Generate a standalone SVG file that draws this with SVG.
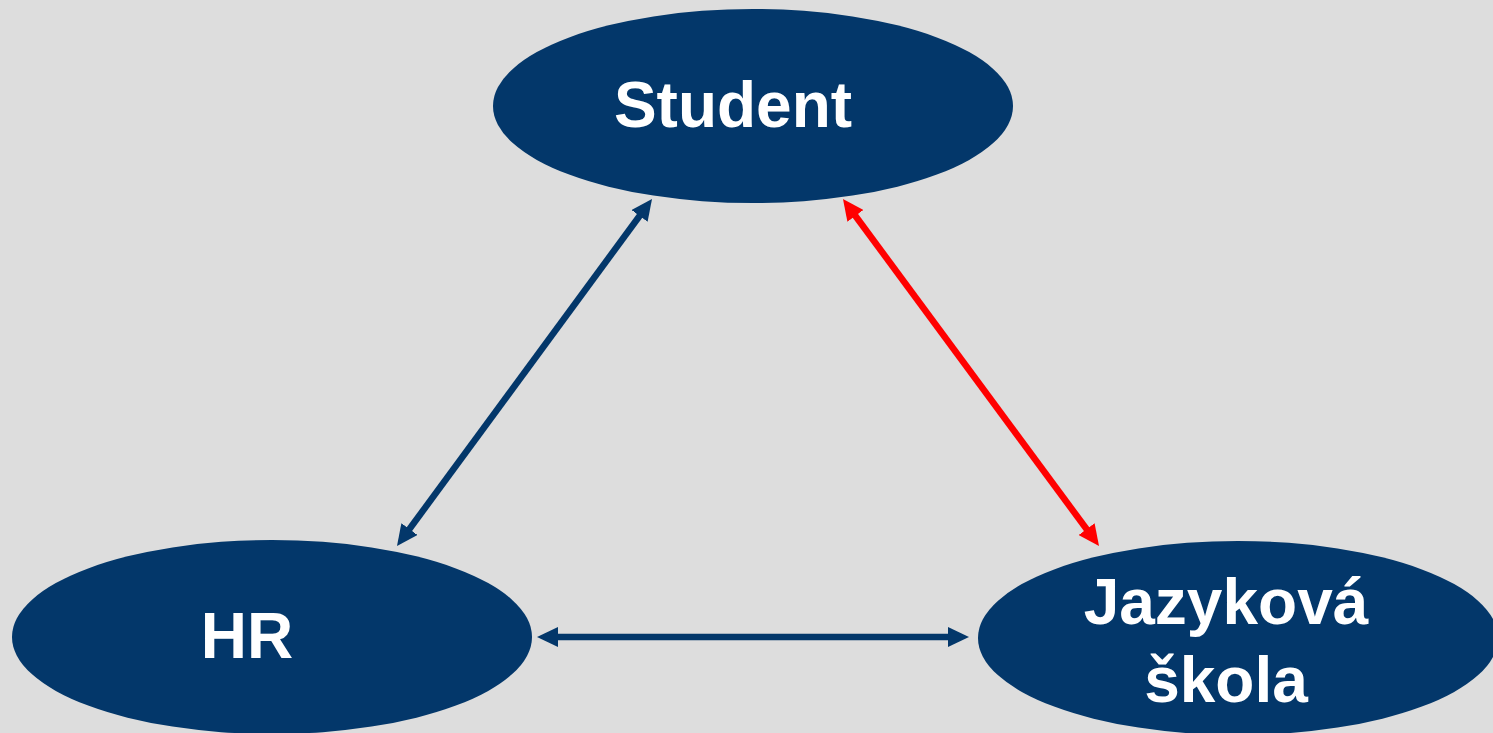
<svg xmlns="http://www.w3.org/2000/svg" width="1493" height="733" viewBox="0 0 1493 733">
<style>
.node{fill:#03376A}
.lbl{fill:#FFFFFF;font-family:"Liberation Sans",Arial,sans-serif;font-weight:bold;font-size:64px;text-anchor:middle}
.blue{stroke:#03376A;stroke-width:6.5;fill:none}
.red{stroke:#FF0000;stroke-width:6.5;fill:none}
</style>
<defs>
<marker id="ab" markerUnits="userSpaceOnUse" markerWidth="21" markerHeight="20" refX="8" refY="10" orient="auto-start-reverse" viewBox="0 0 21 20"><path d="M0,0 L21,10 L0,20 z" fill="#03376A"/></marker>
<marker id="ar" markerUnits="userSpaceOnUse" markerWidth="21" markerHeight="20" refX="8" refY="10" orient="auto-start-reverse" viewBox="0 0 21 20"><path d="M0,0 L21,10 L0,20 z" fill="#FF0000"/></marker>
</defs>
<rect width="1493" height="733" fill="#DDDDDD"/>
<g id="connectors">
<line class="blue" x1="404.7" y1="535.5" x2="644.3" y2="209.5" marker-start="url(#ab)" marker-end="url(#ab)"/>
<line class="red" x1="850.7" y1="209.5" x2="1091.3" y2="535.5" marker-start="url(#ar)" marker-end="url(#ar)"/>
<line class="blue" x1="550" y1="637" x2="956" y2="637" marker-start="url(#ab)" marker-end="url(#ab)"/>
</g>
<g id="student">
<ellipse class="node" cx="753" cy="106" rx="260" ry="97"/>
<text class="lbl" x="733" y="127">Student</text>
</g>
<g id="hr">
<ellipse class="node" cx="272" cy="637" rx="260" ry="97"/>
<text class="lbl" x="247" y="658">HR</text>
</g>
<g id="jazykova">
<ellipse class="node" cx="1238" cy="638" rx="260" ry="97"/>
<text class="lbl" x="1226" y="624">Jazyková</text>
<text class="lbl" x="1226" y="702">škola</text>
</g>
</svg>
